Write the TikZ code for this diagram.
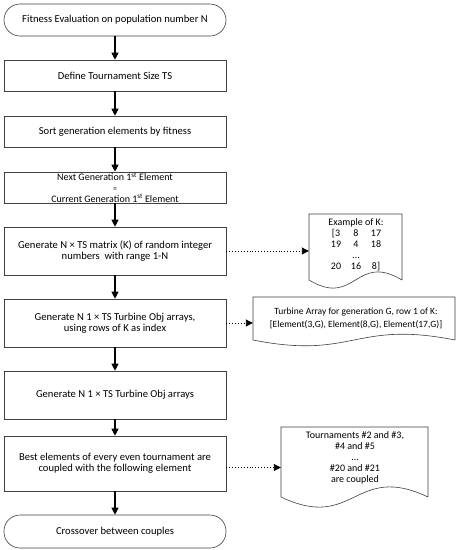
\documentclass[tikz,border=0pt]{standalone}
\usepackage{fontspec}
\setmainfont{Carlito}
\usetikzlibrary{arrows.meta}
\begin{document}
\begin{tikzpicture}[x=1pt,y=-1pt,
  base/.style={font=\fontsize{10}{11}\selectfont, align=center, inner sep=0pt},
  box/.style={base, font=\fontsize{10.6}{11.2}\selectfont, draw=black!75, line width=0.6pt, minimum width=222pt},
  term/.style={box, rounded corners=16pt},
  flow/.style={line width=1.1pt, -{Triangle[length=7pt,width=7pt]}},
  note/.style={line width=0.9pt, dotted, -{Triangle[length=7pt,width=7pt]}},
  docline/.style={draw=black!75, line width=0.6pt},
  docanchor/.style={inner sep=0pt}]
\fill[white] (0,0) rectangle (459,550);
\useasboundingbox (0,0) rectangle (459,550);
% main flow
\node[term, minimum height=32pt] (start) at (115,20) {Fitness Evaluation on population number N};
\node[box, minimum height=31pt] (tsize) at (115,75.5) {Define Tournament Size TS};
\node[box, minimum height=31pt] (sort) at (115,131.5) {Sort generation elements by fitness};
\node[box, minimum height=31pt, font=\fontsize{10}{10.8}\selectfont] (elite) at (115,187.5) {Next Generation 1\textsuperscript{st} Element\\{\fontsize{8}{8}\selectfont =}\\Current Generation 1\textsuperscript{st} Element};
\node[box, minimum height=48pt] (matrix) at (115,251) {Generate N × TS matrix (K) of random integer\\numbers\ \ with range 1-N};
\node[box, minimum height=48pt] (arrays) at (115,323) {Generate N 1 × TS Turbine Obj arrays,\\using rows of K as index};
\node[box, minimum height=48pt] (arrays2) at (115,395) {Generate N 1 × TS Turbine Obj arrays};
\node[box, minimum height=55pt] (couple) at (115,463.5) {Best elements of every even tournament are\\coupled with the following element};
\node[term, minimum height=33pt] (cross) at (115,531.5) {Crossover between couples};
% documents
\node[docanchor, minimum width=93pt, minimum height=66pt] (ex) at (355.5,247) {};
\draw[docline] (402,280) -- (402,214) -- (309,214) -- (309,280) .. controls (355.5,308) and (355.5,252) .. (402,280);
\node[base] (ext) at (356,245) {Example of K:\\
  \makebox[20pt]{[3}\makebox[20pt]{8}\makebox[20pt]{17}\\
  \makebox[20pt]{19}\makebox[20pt]{4}\makebox[20pt]{18}\\
  \makebox[20pt]{}\makebox[20pt]{…}\makebox[20pt]{}\\
  \makebox[20pt]{20}\makebox[20pt]{16}\makebox[20pt]{8]}};
\node[docanchor, minimum width=202pt, minimum height=43pt] (tarr) at (354,318.5) {};
\draw[docline] (455,340) -- (455,297) -- (253,297) -- (253,340) .. controls (354,360) and (354,320) .. (455,340);
\node[base, font=\fontsize{9.5}{13}\selectfont] (tarrt) at (356,318.5) {Turbine Array for generation G, row 1 of K:\\{[}Element(3,G), Element(8,G), Element(17,G)]};
\node[docanchor, minimum width=147pt, minimum height=70pt] (tour) at (354.5,462) {};
\draw[docline] (428,497) -- (428,427) -- (281,427) -- (281,497) .. controls (354.5,532) and (354.5,462) .. (428,497);
\node[base] (tourt) at (355,458) {Tournaments \#2 and \#3,\\\#4 and \#5\\…\\\#20 and \#21\\are coupled};
% connectors
\draw[flow] (start.south) -- (tsize.north);
\draw[flow] (tsize.south) -- (sort.north);
\draw[flow] (sort.south) -- (elite.north);
\draw[flow] (elite.south) -- (matrix.north);
\draw[flow] (matrix.south) -- (arrays.north);
\draw[flow] (arrays.south) -- (arrays2.north);
\draw[flow] (arrays2.south) -- (couple.north);
\draw[flow] (couple.south) -- (cross.north);
\draw[note] (matrix.east) -- (matrix.east -| ex.west);
\draw[note] (arrays.east) -- (arrays.east -| tarr.west);
\draw[note] ([yshift=-4pt]couple.east) -- ([yshift=-4pt]couple.east -| tour.west);
\end{tikzpicture}
\end{document}
